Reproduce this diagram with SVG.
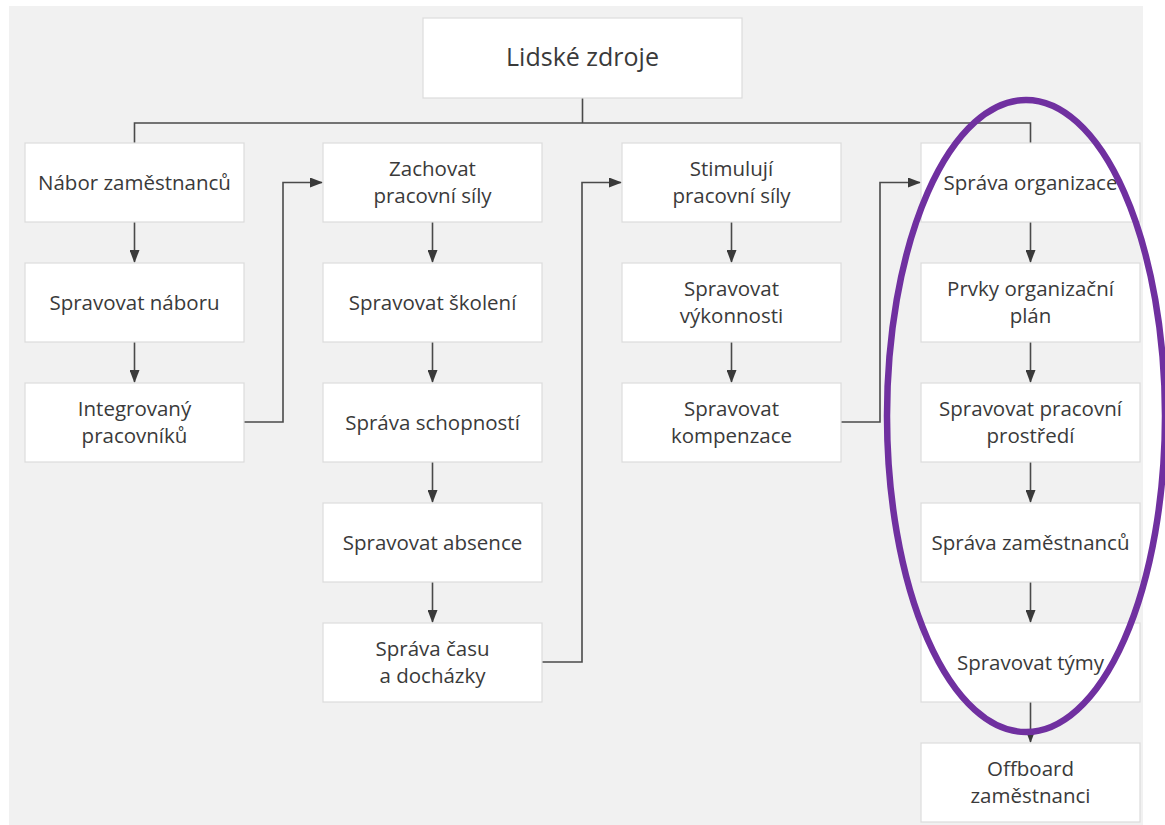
<svg xmlns="http://www.w3.org/2000/svg" width="1165" height="825" viewBox="0 0 1165 825">
<style>
.box{fill:#fff;stroke:#dcdcdc;stroke-width:1.2}
.t{font-family:"Open Sans","Noto Sans","Liberation Sans",sans-serif;font-size:20.5px;fill:#3a3a3a;text-anchor:middle}
.big{font-size:25px}
.c{fill:none;stroke:#4a4a4a;stroke-width:1.6}
.a{fill:none;stroke:#4a4a4a;stroke-width:1.6;marker-end:url(#ah)}
</style>
<defs>
<marker id="ah" markerWidth="13" markerHeight="10" refX="12" refY="5" orient="auto" markerUnits="userSpaceOnUse">
<path d="M0,0 L13,5 L0,10 Z" fill="#3a3a3a"/>
</marker>
</defs>
<rect x="0" y="0" width="1165" height="825" fill="#fff"/>
<rect x="9" y="6" width="1134" height="819" fill="#f1f1f1"/>
<g id="connectors">
<path class="c" d="M582.5,98 V123 M134.5,143 V123 H1030.5 V143"/>
<path class="a" d="M134.5,222 V262"/>
<path class="a" d="M134.5,342 V382"/>
<path class="a" d="M432.5,222 V262"/>
<path class="a" d="M432.5,342 V382"/>
<path class="a" d="M432.5,462 V502"/>
<path class="a" d="M432.5,582 V622"/>
<path class="a" d="M731.5,222 V262"/>
<path class="a" d="M731.5,342 V382"/>
<path class="a" d="M1030.5,222 V262"/>
<path class="a" d="M1030.5,342 V382"/>
<path class="a" d="M1030.5,462 V502"/>
<path class="a" d="M1030.5,582 V622"/>
<path class="a" d="M1030.5,702 V742"/>
<path class="a" d="M244,422 H283 V182.5 H322"/>
<path class="a" d="M542,662 H582 V182.5 H621"/>
<path class="a" d="M841,422 H880 V182.5 H920"/>
</g>
<g id="n0"><rect class="box" x="423" y="18" width="319" height="80"/><text class="t big" x="582.5" y="66">Lidské zdroje</text></g>
<g id="n1"><rect class="box" x="25" y="143" width="219" height="79"/><text class="t" x="134.5" y="190">Nábor zaměstnanců</text></g>
<g id="n2"><rect class="box" x="25" y="263" width="219" height="79"/><text class="t" x="134.5" y="310">Spravovat náboru</text></g>
<g id="n3"><rect class="box" x="25" y="383" width="219" height="79"/><text class="t" x="134.5" y="416">Integrovaný</text><text class="t" x="134.5" y="443">pracovníků</text></g>
<g id="n4"><rect class="box" x="323" y="143" width="219" height="79"/><text class="t" x="432.5" y="176">Zachovat</text><text class="t" x="432.5" y="203">pracovní síly</text></g>
<g id="n5"><rect class="box" x="323" y="263" width="219" height="79"/><text class="t" x="432.5" y="310">Spravovat školení</text></g>
<g id="n6"><rect class="box" x="323" y="383" width="219" height="79"/><text class="t" x="432.5" y="430">Správa schopností</text></g>
<g id="n7"><rect class="box" x="323" y="503" width="219" height="79"/><text class="t" x="432.5" y="550">Spravovat absence</text></g>
<g id="n8"><rect class="box" x="323" y="623" width="219" height="79"/><text class="t" x="432.5" y="656">Správa času</text><text class="t" x="432.5" y="683">a docházky</text></g>
<g id="n9"><rect class="box" x="622" y="143" width="219" height="79"/><text class="t" x="731.5" y="176">Stimulují</text><text class="t" x="731.5" y="203">pracovní síly</text></g>
<g id="n10"><rect class="box" x="622" y="263" width="219" height="79"/><text class="t" x="731.5" y="296">Spravovat</text><text class="t" x="731.5" y="323">výkonnosti</text></g>
<g id="n11"><rect class="box" x="622" y="383" width="219" height="79"/><text class="t" x="731.5" y="416">Spravovat</text><text class="t" x="731.5" y="443">kompenzace</text></g>
<g id="n12"><rect class="box" x="921" y="143" width="219" height="79"/><text class="t" x="1030.5" y="190">Správa organizace</text></g>
<g id="n13"><rect class="box" x="921" y="263" width="219" height="79"/><text class="t" x="1030.5" y="296">Prvky organizační</text><text class="t" x="1030.5" y="323">plán</text></g>
<g id="n14"><rect class="box" x="921" y="383" width="219" height="79"/><text class="t" x="1030.5" y="416">Spravovat pracovní</text><text class="t" x="1030.5" y="443">prostředí</text></g>
<g id="n15"><rect class="box" x="921" y="503" width="219" height="79"/><text class="t" x="1030.5" y="550">Správa zaměstnanců</text></g>
<g id="n16"><rect class="box" x="921" y="623" width="219" height="79"/><text class="t" x="1030.5" y="670">Spravovat týmy</text></g>
<g id="n17"><rect class="box" x="921" y="743" width="219" height="79"/><text class="t" x="1030.5" y="776">Offboard</text><text class="t" x="1030.5" y="803">zaměstnanci</text></g>
<ellipse id="highlight" cx="1026" cy="416" rx="139" ry="316" fill="none" stroke="#7030a0" stroke-width="6.5"/>
</svg>
